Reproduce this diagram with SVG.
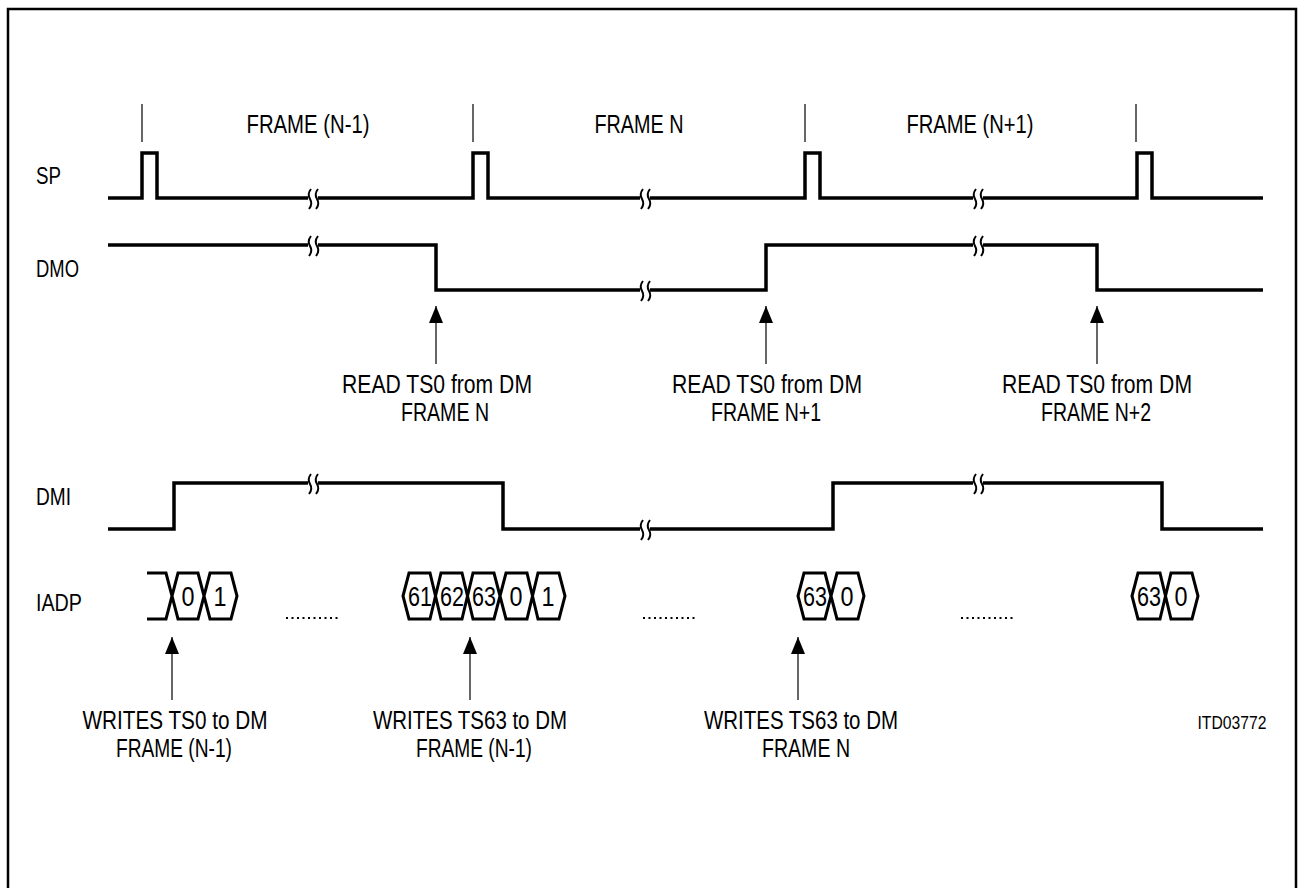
<svg xmlns="http://www.w3.org/2000/svg" xmlns:xlink="http://www.w3.org/1999/xlink" width="1298" height="888" viewBox="0 0 1298 888">
<style>
text{font-family:"Liberation Sans",Arial,sans-serif;fill:#000}
.lbl{font-size:23px}
.hdr{font-size:25px;text-anchor:middle}
.cap{font-size:25px;text-anchor:middle}
.cell{font-size:28px;text-anchor:middle}
.sig{fill:none;stroke:#000;stroke-width:3.5;stroke-linejoin:miter}
.bus{fill:none;stroke:#000;stroke-width:3;stroke-linejoin:miter}
.thin{fill:none;stroke:#000;stroke-width:1.2}
.dots{fill:none;stroke:#000;stroke-width:2.2;stroke-dasharray:2 3.5}
</style>
<defs>
<g id="brk">
<rect x="-5" y="-4" width="10" height="8" fill="#fff"/>
<path d="M-2,-9 Q-6,-4 -3,1 Q0,6 -4,11 M5,-9 Q1,-4 4,1 Q7,6 3,11" fill="none" stroke="#000" stroke-width="2"/>
</g>
<marker id="ah" viewBox="0 0 17 14" refX="17" refY="7" markerWidth="17" markerHeight="14" markerUnits="userSpaceOnUse" orient="auto">
<path d="M0,0 L17,7 L0,14 Z" fill="#000"/>
</marker>
</defs>
<path d="M8,888 V9 H1296 V888" fill="none" stroke="#000" stroke-width="2.5"/>

<g id="labels">
<text class="lbl" x="36" y="184" textLength="25" lengthAdjust="spacingAndGlyphs">SP</text>
<text class="lbl" x="36" y="277" textLength="43" lengthAdjust="spacingAndGlyphs">DMO</text>
<text class="lbl" x="36" y="505" textLength="35" lengthAdjust="spacingAndGlyphs">DMI</text>
<text class="lbl" x="36" y="611" textLength="46" lengthAdjust="spacingAndGlyphs">IADP</text>
<text class="hdr" x="308" y="133" textLength="123" lengthAdjust="spacingAndGlyphs">FRAME (N-1)</text>
<text class="hdr" x="639" y="133" textLength="89" lengthAdjust="spacingAndGlyphs">FRAME N</text>
<text class="hdr" x="970" y="133" textLength="127" lengthAdjust="spacingAndGlyphs">FRAME (N+1)</text>
<text x="1232" y="729" style="font-size:19px;text-anchor:middle" textLength="69" lengthAdjust="spacingAndGlyphs">ITD03772</text>
</g>

<g id="ticks">
<line class="thin" x1="142" y1="104" x2="142" y2="142"/>
<line class="thin" x1="473" y1="104" x2="473" y2="142"/>
<line class="thin" x1="805" y1="104" x2="805" y2="142"/>
<line class="thin" x1="1136" y1="104" x2="1136" y2="142"/>
</g>

<g id="sp">
<path class="sig" d="M108,198 H142 V153 H157 V198 H473 V153 H488 V198 H805 V153 H820 V198 H1137 V153 H1152 V198 H1263"/>
<use xlink:href="#brk" x="313" y="198"/>
<use xlink:href="#brk" x="645" y="198"/>
<use xlink:href="#brk" x="978" y="198"/>
</g>

<g id="dmo">
<path class="sig" d="M108,245 H436 V290 H766 V245 H1097 V290 H1263"/>
<use xlink:href="#brk" x="313" y="245"/>
<use xlink:href="#brk" x="645" y="290"/>
<use xlink:href="#brk" x="978" y="245"/>
</g>

<g id="dmi">
<path class="sig" d="M108,529 H174 V483 H503 V529 H833 V483 H1162 V529 H1263"/>
<use xlink:href="#brk" x="313" y="483"/>
<use xlink:href="#brk" x="645" y="529"/>
<use xlink:href="#brk" x="978" y="483"/>
</g>

<g id="iadp1">
<path class="bus" d="M147,573 H166 L178,619 H198 L210,573 H231 L237,596 L231,619 H210 L198,573 H178 L166,619 H147"/>
<text class="cell" x="188" y="606" textLength="13" lengthAdjust="spacingAndGlyphs">0</text>
<text class="cell" x="220" y="606" textLength="13" lengthAdjust="spacingAndGlyphs">1</text>
</g>
<g id="iadp2">
<path class="bus" d="M403,596 L409,573 H430 L441,619 H462 L473,573 H494 L506,619 H527 L538,573 H559 L565,596 L559,619 H538 L527,573 H506 L494,619 H473 L462,573 H441 L430,619 H409 Z"/>
<text class="cell" x="420" y="606" textLength="24" lengthAdjust="spacingAndGlyphs">61</text>
<text class="cell" x="452" y="606" textLength="24" lengthAdjust="spacingAndGlyphs">62</text>
<text class="cell" x="484" y="606" textLength="24" lengthAdjust="spacingAndGlyphs">63</text>
<text class="cell" x="516" y="606" textLength="13" lengthAdjust="spacingAndGlyphs">0</text>
<text class="cell" x="548" y="606" textLength="13" lengthAdjust="spacingAndGlyphs">1</text>
</g>
<g id="iadp3">
<path class="bus" d="M798,596 L804,573 H825 L837,619 H858 L864,596 L858,573 H837 L825,619 H804 Z"/>
<text class="cell" x="815" y="606" textLength="24" lengthAdjust="spacingAndGlyphs">63</text>
<text class="cell" x="847" y="606" textLength="13" lengthAdjust="spacingAndGlyphs">0</text>
</g>
<g id="iadp4">
<path class="bus" d="M1132,596 L1138,573 H1160 L1171,619 H1192 L1198,596 L1192,573 H1171 L1160,619 H1138 Z"/>
<text class="cell" x="1149" y="606" textLength="24" lengthAdjust="spacingAndGlyphs">63</text>
<text class="cell" x="1181" y="606" textLength="13" lengthAdjust="spacingAndGlyphs">0</text>
</g>
<g id="dots">
<line class="dots" x1="286" y1="618" x2="340" y2="618"/>
<line class="dots" x1="643" y1="618" x2="697" y2="618"/>
<line class="dots" x1="961" y1="618" x2="1015" y2="618"/>
</g>

<g id="connectors">
<line class="thin" x1="436" y1="364" x2="436" y2="306" marker-end="url(#ah)"/>
<line class="thin" x1="766" y1="364" x2="766" y2="306" marker-end="url(#ah)"/>
<line class="thin" x1="1097" y1="364" x2="1097" y2="306" marker-end="url(#ah)"/>
<line class="thin" x1="172" y1="700" x2="172" y2="637" marker-end="url(#ah)"/>
<line class="thin" x1="470" y1="700" x2="470" y2="637" marker-end="url(#ah)"/>
<line class="thin" x1="798" y1="700" x2="798" y2="637" marker-end="url(#ah)"/>
</g>

<g id="captions">
<text class="cap" x="437" y="393" textLength="190" lengthAdjust="spacingAndGlyphs">READ TS0 from DM</text>
<text class="cap" x="445" y="421" textLength="88" lengthAdjust="spacingAndGlyphs">FRAME N</text>
<text class="cap" x="767" y="393" textLength="190" lengthAdjust="spacingAndGlyphs">READ TS0 from DM</text>
<text class="cap" x="766" y="421" textLength="110" lengthAdjust="spacingAndGlyphs">FRAME N+1</text>
<text class="cap" x="1097" y="393" textLength="190" lengthAdjust="spacingAndGlyphs">READ TS0 from DM</text>
<text class="cap" x="1096" y="421" textLength="110" lengthAdjust="spacingAndGlyphs">FRAME N+2</text>
<text class="cap" x="175" y="729" textLength="185" lengthAdjust="spacingAndGlyphs">WRITES TS0 to DM</text>
<text class="cap" x="174" y="757" textLength="116" lengthAdjust="spacingAndGlyphs">FRAME (N-1)</text>
<text class="cap" x="470" y="729" textLength="194" lengthAdjust="spacingAndGlyphs">WRITES TS63 to DM</text>
<text class="cap" x="474" y="757" textLength="116" lengthAdjust="spacingAndGlyphs">FRAME (N-1)</text>
<text class="cap" x="801" y="729" textLength="194" lengthAdjust="spacingAndGlyphs">WRITES TS63 to DM</text>
<text class="cap" x="806" y="757" textLength="88" lengthAdjust="spacingAndGlyphs">FRAME N</text>
</g>
</svg>
